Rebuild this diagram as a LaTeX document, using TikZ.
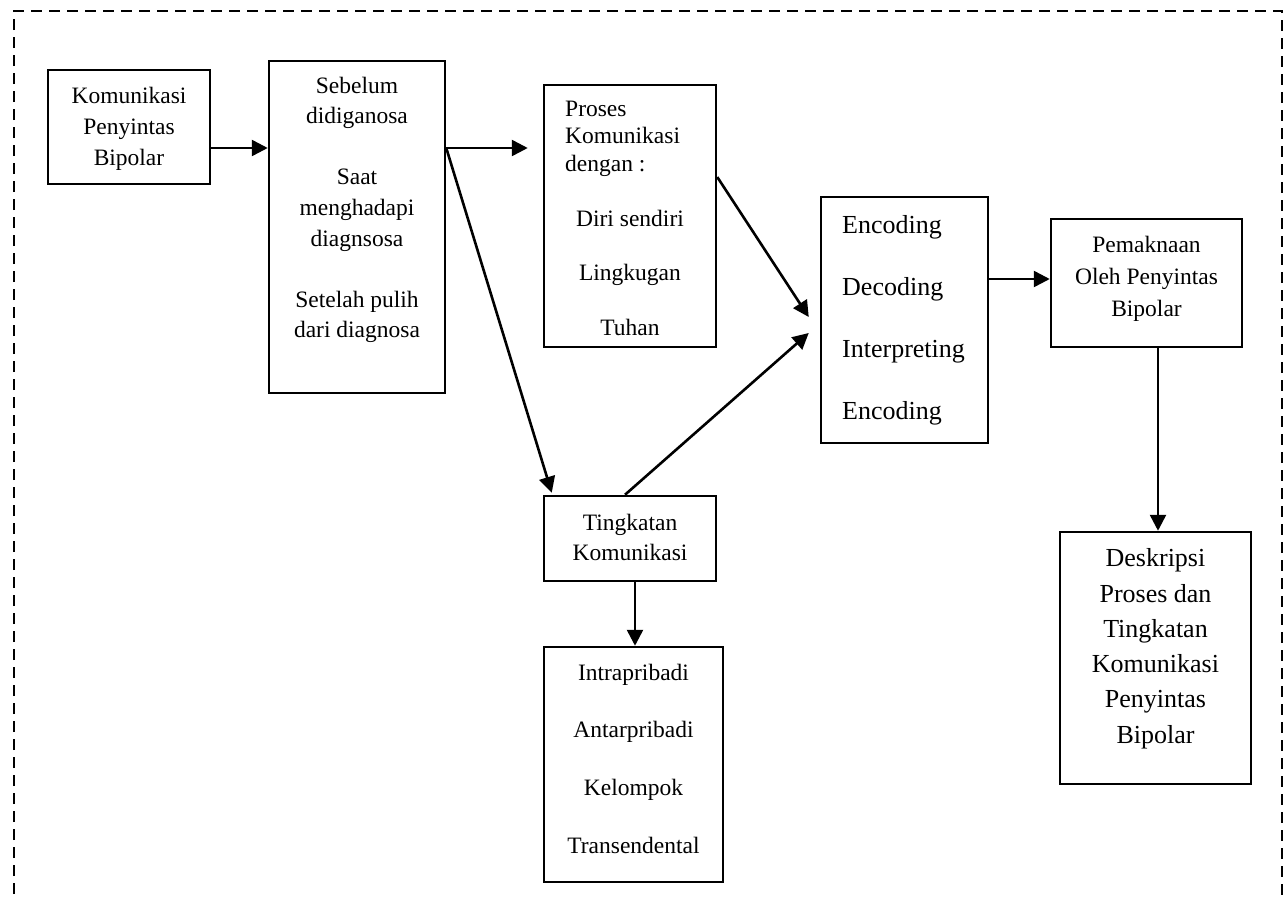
\documentclass[tikz,border=0pt]{standalone}
\usepackage{fontspec}
\setmainfont{Liberation Serif}
\usetikzlibrary{arrows.meta,calc}
\begin{document}
\begin{tikzpicture}[x=1pt,y=-1pt,
 box/.style={draw, line width=2.5pt, inner sep=0pt, rectangle},
 txt/.style={font=\fontsize{23.5}{28}\selectfont, inner sep=0pt, anchor=base},
 bigtxt/.style={font=\fontsize{26}{31}\selectfont, inner sep=0pt, anchor=base},
 arr/.style={line width=2.6pt, -{Triangle[length=16pt,width=16pt]}},
 frame/.style={line width=2.6pt, dash pattern=on 11pt off 7pt}]
\useasboundingbox (0,0) rectangle (1288,900);
\clip (0,0) rectangle (1288,900);
\draw[frame] (14,930) -- (14,11) -- (1282,11) -- (1282,930);

% boxes
\node[box, minimum width=162pt, minimum height=114pt] (b1) at (129,127) {};
\node[box, minimum width=176pt, minimum height=332pt] (b2) at (357,227) {};
\node[box, minimum width=172pt, minimum height=262pt] (b3) at (630,216) {};
\node[box, minimum width=167pt, minimum height=246pt] (b4) at (904.5,320) {};
\node[box, minimum width=172pt, minimum height=85pt] (b5) at (630,538.5) {};
\node[box, minimum width=191pt, minimum height=128pt] (b6) at (1146.5,283) {};
\node[box, minimum width=191pt, minimum height=252pt] (b7) at (1155.5,658) {};
\node[box, minimum width=179pt, minimum height=235pt] (b8) at (633.5,764.5) {};

% texts
\foreach \t [count=\i from 0] in {Komunikasi,Penyintas,Bipolar}
  \node[txt] (b1t\i) at (129,103+31.3*\i) {\t};
\foreach \t/\k in {Sebelum/0,didiganosa/1,Saat/3,menghadapi/4,diagnsosa/5,Setelah pulih/7,dari diagnosa/8}
  \node[txt] (b2t\k) at (357,93+30.6*\k) {\t};
\foreach \t [count=\i from 0] in {Proses,Komunikasi,dengan :}
  \node[txt, anchor=base west] (b3a\i) at (565,116+27.6*\i) {\t};
\foreach \t [count=\i from 0] in {Diri sendiri,Lingkugan,Tuhan}
  \node[txt] (b3b\i) at (630,226.7+54.2*\i) {\t};
\foreach \t [count=\i from 0] in {Encoding,Decoding,Interpreting,Encoding}
  \node[bigtxt, anchor=base west] (b4t\i) at (842,233+62*\i) {\t};
\foreach \t [count=\i from 0] in {Tingkatan,Komunikasi}
  \node[txt] (b5t\i) at (630,530+30*\i) {\t};
\foreach \t [count=\i from 0] in {Pemaknaan,Oleh Penyintas,Bipolar}
  \node[txt] (b6t\i) at (1146.5,252.7+31.8*\i) {\t};
\foreach \t [count=\i from 0] in {Deskripsi,Proses dan,Tingkatan,Komunikasi,Penyintas,Bipolar}
  \node[bigtxt] (b7t\i) at (1155.5,566.7+35.3*\i) {\t};
\foreach \t [count=\i from 0] in {Intrapribadi,Antarpribadi,Kelompok,Transendental}
  \node[txt] (b8t\i) at (633.5,680+57.8*\i) {\t};

% connectors
\draw[arr] (b1.east |- 0,148) -- (b2.west |- 0,148);
\draw[arr, shorten >=15pt] (b2.east |- 0,148) -- (b3.west |- 0,148);
\draw[arr] (b2.east |- 0,148) -- ($(b5.north west)+(9,-2)$);
\draw[arr] (b3.east |- 0,177) -- ($(b4.west |- 0,317)+(-11,0)$);
\draw[arr] ($(b5.north)+(-5,0)$) -- ($(b4.west |- 0,333)+(-11,0)$);
\draw[arr] (b4.east |- 0,279) -- (b6.west |- 0,279);
\draw[arr] (1158,0 |- b6.south) -- (1158,0 |- b7.north);
\draw[arr] (635,0 |- b5.south) -- (635,0 |- b8.north);
\end{tikzpicture}
\end{document}
